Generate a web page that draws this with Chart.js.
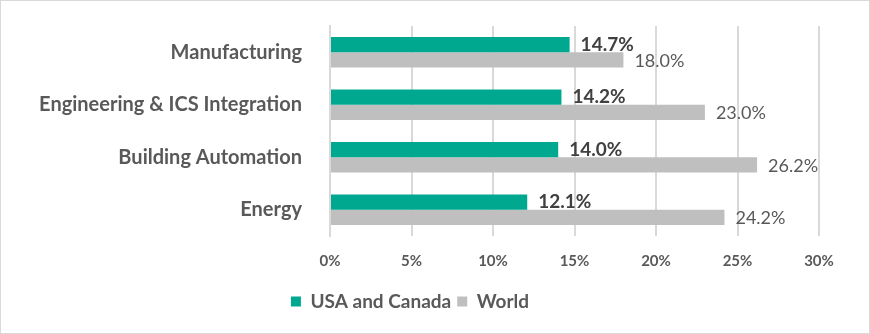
<!DOCTYPE html>
<html>
<head>
<meta charset="utf-8">
<script src="https://cdn.jsdelivr.net/npm/chart.js@4.4.0/dist/chart.umd.min.js"></script>
<style>
    html, body { margin: 0; padding: 0; background: #fff; }
    #wrap { width: 870px; height: 334px; box-sizing: border-box; border: 1px solid #d9d9d9; position: relative; }
</style>
</head>
<body>
<div id="wrap"><canvas id="chart"></canvas></div>
<script>
const categories = ['Manufacturing', 'Engineering & ICS Integration', 'Building Automation', 'Energy'];
const usaCanada = [14.7, 14.2, 14.0, 12.1];
const world = [18.0, 23.0, 26.2, 24.2];
const tickLabels = ['0%', '5%', '10%', '15%', '20%', '25%', '30%'];

const FONT = 'Lato, "Open Sans", sans-serif';
const TEXT = '#595959';

// value labels drawn at the end of each bar
const barLabels = {
    id: 'barLabels',
    afterDatasetsDraw(chart) {
        const ctx = chart.ctx;
        chart.data.datasets.forEach((ds, i) => {
            const meta = chart.getDatasetMeta(i);
            ctx.save();
            ctx.font = (i === 0 ? 'bold 19px ' : '18px ') + FONT;
            ctx.fillStyle = i === 0 ? '#404040' : TEXT;
            ctx.textAlign = 'left';
            ctx.textBaseline = 'middle';
            meta.data.forEach((bar, j) => {
                ctx.fillText(ds.data[j].toFixed(1) + '%', bar.x + 11, bar.y + (i === 0 ? 0 : 1));
            });
            ctx.restore();
        });
    }
};

new Chart(document.querySelector('#chart').getContext('2d'), {
    type: 'bar',
    data: {
        labels: categories,
        datasets: [
            { label: 'USA and Canada', data: usaCanada, backgroundColor: '#00a88f' },
            { label: 'World', data: world, backgroundColor: '#bfbfbf' }
        ]
    },
    options: {
        indexAxis: 'y',
        responsive: true,
        maintainAspectRatio: false,
        animation: false,
        datasets: { bar: { categoryPercentage: 0.58, barPercentage: 1 } },
        layout: { padding: { top: 25, right: 50, bottom: 12, left: 0 } },
        scales: {
            x: {
                min: 0,
                max: 30,
                ticks: {
                    stepSize: 5,
                    padding: 16,
                    color: TEXT,
                    font: { family: FONT, size: 15, weight: 'bold' },
                    callback: (v, i) => tickLabels[i]
                },
                grid: { color: '#d9d9d9', lineWidth: 2, drawTicks: false },
                border: { display: false }
            },
            y: {
                afterFit: (scale) => {
                    scale.width = 329;
                    scale.paddingTop = 0;
                    scale.paddingBottom = 0;
                },
                ticks: {
                    padding: 20,
                    color: TEXT,
                    font: { family: FONT, size: 20, weight: 'bold' }
                },
                grid: { display: false },
                border: { display: true, color: '#d9d9d9', width: 2 }
            }
        },
        plugins: {
            legend: {
                position: 'bottom',
                labels: {
                    color: TEXT,
                    boxWidth: 10,
                    boxHeight: 10,
                    padding: 6,
                    font: { family: FONT, size: 19, weight: 'bold' }
                }
            },
            tooltip: { enabled: false }
        }
    },
    plugins: [barLabels]
});
</script>
</body>
</html>
